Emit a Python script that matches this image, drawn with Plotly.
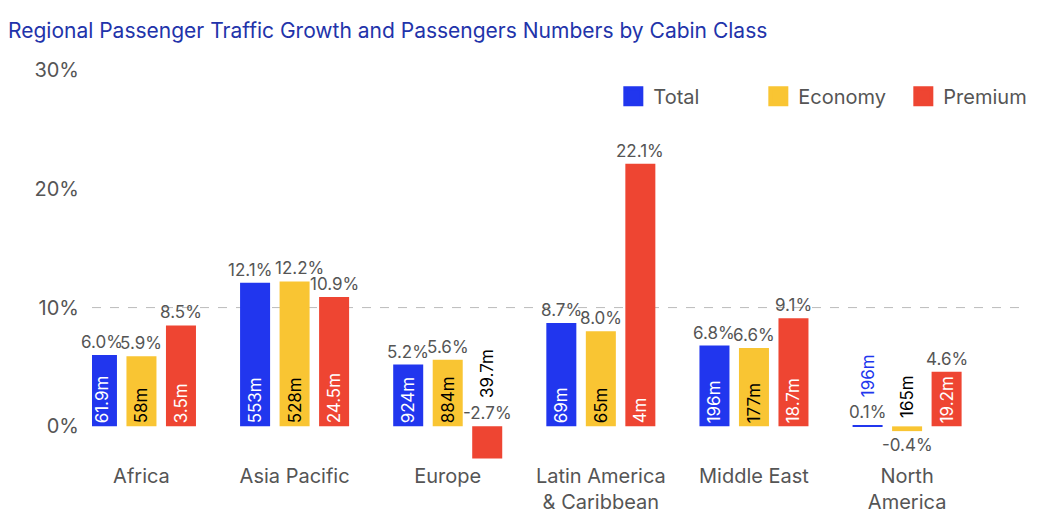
import plotly.graph_objects as go

# regions and growth (%) per cabin class
regions = ["Africa", "Asia Pacific", "Europe", "Latin America<br>& Caribbean",
           "Middle East", "North<br>America"]
total_growth = [6.0, 12.1, 5.2, 8.7, 6.8, 0.1]
economy_growth = [5.9, 12.2, 5.6, 8.0, 6.6, -0.4]
premium_growth = [8.5, 10.9, -2.7, 22.1, 9.1, 4.6]

# passenger numbers per cabin class
total_pax = ["61.9m", "553m", "924m", "69m", "196m", "196m"]
economy_pax = ["58m", "528m", "884m", "65m", "177m", "165m"]
premium_pax = ["3.5m", "24.5m", "39.7m", "4m", "18.7m", "19.2m"]

y_ticks = [0, 10, 20, 30]

BLUE = "#2136EE"
YELLOW = "#F9C533"
RED = "#EE4532"
GRAY = "#555555"
FONT = "Inter, Noto Sans, sans-serif"

series = [
    ("Total", total_growth, total_pax, BLUE, "white", BLUE, -0.258),
    ("Economy", economy_growth, economy_pax, YELLOW, "black", "black", 0.0),
    ("Premium", premium_growth, premium_pax, RED, "white", "black", 0.258),
]

# wide neighbouring labels at the same height get pushed apart a little
nudge = {}
for i, (t, e) in enumerate(zip(total_growth, economy_growth)):
    if abs(t - e) < 1 and min(t, e) >= 10:
        nudge[("Total", i)] = -5
        nudge[("Economy", i)] = 5

fig = go.Figure()
annotations = []

for name, growth, pax, color, inner_col, outer_col, off in series:
    xs = [i + off for i in range(len(regions))]
    # small bars get their passenger label outside
    inner = [p if abs(g) >= 4 else "" for g, p in zip(growth, pax)]
    fig.add_trace(go.Bar(
        x=xs, y=growth, width=0.196, marker_color=color, marker_line_width=0,
        text=inner, textposition="inside", insidetextanchor="start",
        textangle=-90, textfont=dict(color=inner_col, size=17, family=FONT),
        showlegend=False, hoverinfo="skip", cliponaxis=False,
    ))
    # legend entry with big square
    fig.add_trace(go.Scatter(
        x=[None], y=[None], mode="markers", name=name,
        marker=dict(symbol="square", size=22, color=color,
                    line=dict(color=color, width=4)),
    ))
    for i, (x, g, p) in enumerate(zip(xs, growth, pax)):
        pct = f"{g:.1f}%"
        dx = nudge.get((name, i), 0)
        if g < 0 and abs(g) < 1:
            # tiny negative: percent under the bar, pax above zero
            annotations.append(dict(x=x, y=g, text=pct, showarrow=False,
                                    yanchor="top", yshift=-2,
                                    font=dict(size=17, color=GRAY, family=FONT)))
            annotations.append(dict(x=x, y=0, text=p, showarrow=False,
                                    textangle=-90, yanchor="bottom", yshift=6,
                                    font=dict(size=17, color=outer_col, family=FONT)))
            continue
        base = max(g, 0)
        annotations.append(dict(x=x, y=base, text=pct, showarrow=False,
                                yanchor="bottom", yshift=1, xshift=dx,
                                font=dict(size=17, color=GRAY, family=FONT)))
        if abs(g) < 4:
            annotations.append(dict(x=x, y=base, text=p, showarrow=False,
                                    textangle=-90, yanchor="bottom", yshift=26,
                                    font=dict(size=17, color=outer_col, family=FONT)))

fig.add_shape(type="line", xref="paper", x0=0, x1=1, y0=10, y1=10,
              line=dict(color="#BBBBBB", width=1, dash="dash"), layer="below")

# page body has an 8px margin, so the figure is a bit smaller than the window
fig.update_layout(
    width=1031, height=522,
    margin=dict(l=84, r=14, t=62, b=68, autoexpand=False),
    paper_bgcolor="white", plot_bgcolor="white",
    font=dict(family=FONT, color=GRAY),
    title=dict(text="Regional Passenger Traffic Growth and Passengers Numbers by Cabin Class",
               x=0, xanchor="left", y=0.956, yanchor="middle",
               font=dict(size=21, color="#2233AA", family=FONT)),
    barmode="overlay",
    showlegend=True,
    legend=dict(orientation="h", x=1.025, xanchor="right", y=0.933, yanchor="middle",
                entrywidth=100,
                font=dict(size=20, color=GRAY, family=FONT), bgcolor="rgba(0,0,0,0)"),
    annotations=annotations,
    xaxis=dict(range=[-0.323, 5.77], tickvals=list(range(len(regions))), ticktext=regions,
               showgrid=False, zeroline=False, showline=False,
               tickfont=dict(size=20, color=GRAY, family=FONT)),
    yaxis=dict(range=[-3, 30], tickvals=y_ticks, ticktext=[f"{t}%" for t in y_ticks],
               showgrid=False, zeroline=False, showline=False,
               tickfont=dict(size=20, color=GRAY, family=FONT), ticklabelstandoff=12),
)

fig.write_html("out.html")
